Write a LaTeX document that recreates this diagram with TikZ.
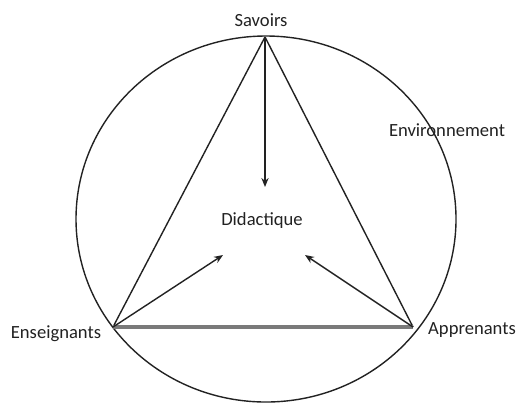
\documentclass[tikz,border=0pt]{standalone}
\usepackage{fontspec}
\setmainfont{Carlito}
\usetikzlibrary{arrows.meta}
\definecolor{inkgray}{HTML}{222222}
\definecolor{basegray}{HTML}{7A7A7A}

\begin{document}
\begin{tikzpicture}[x=.5pt,y=-.5pt,>={Stealth[length=4.5pt,width=3.6pt]},
 lbl/.style={inner sep=0pt,font=\fontsize{9.3}{11}\selectfont,text=inkgray},
 edge/.style={draw=inkgray,line width=.7pt}]
\useasboundingbox (0,0) rectangle (517,403);
\draw[edge] (266,219) ellipse [x radius=95pt,y radius=91.5pt];
\coordinate (S) at (265,37);\coordinate (E) at (113,327);\coordinate (A) at (413,327);
\node[lbl] (sav) at (261,20) {Savoirs};
\node[lbl] (env) at (447,130) {Environnement};
\node[lbl] (did) at (262,221) {Didactique};
\node[lbl] (ens) at (56,334) {Enseignants};
\node[lbl] (app) at (472,330) {Apprenants};
\draw[edge] (S)--(E);\draw[edge] (S)--(A);
\draw[draw=basegray,line width=1.6pt] (E)--(A);
\coordinate (t1) at (265,187);\coordinate (t2) at (223,255);\coordinate (t3) at (305,255);
\draw[edge,->] (S)--(t1);\draw[edge,->] (E)--(t2);\draw[edge,->] (A)--(t3);
\end{tikzpicture}
\end{document}
